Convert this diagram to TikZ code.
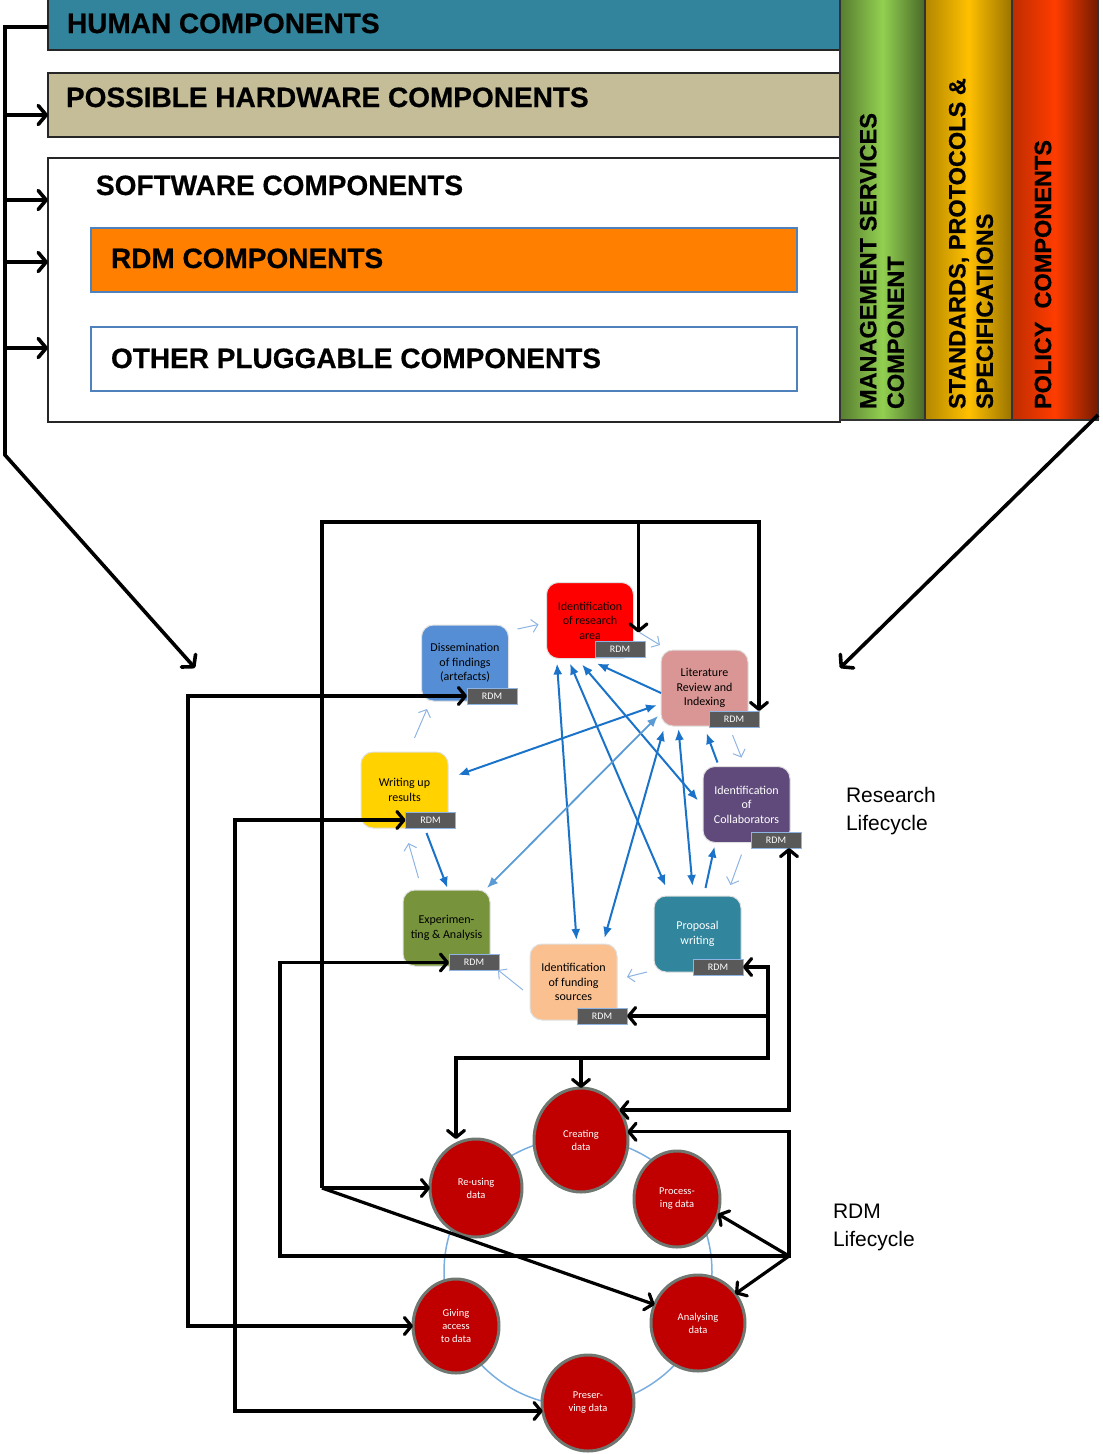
\documentclass[tikz,border=0pt]{standalone}
\usepackage{fontspec}
\setmainfont{Carlito}
\newfontfamily\arialfont{Liberation Sans}
\newfontfamily\headfont[FakeBold=0.6]{Liberation Sans Bold}
\usetikzlibrary{arrows.meta,shapes.geometric,calc}

\definecolor{humanteal}{HTML}{31849B}
\definecolor{hwtan}{HTML}{C4BD97}
\definecolor{rdmorange}{HTML}{FF8000}
\definecolor{frameblue}{HTML}{4F81BD}
\definecolor{mgmtgreen}{HTML}{92D050}
\definecolor{stdyellow}{HTML}{FFC000}
\definecolor{policyred}{HTML}{FF3C00}
\definecolor{linkblue}{HTML}{1A73C8}
\definecolor{linklight}{HTML}{5B9BD5}
\definecolor{cyclelight}{HTML}{8DB4E2}
\definecolor{ringblue}{HTML}{7AAEE0}
\definecolor{tagfill}{HTML}{595959}
\definecolor{tagedge}{HTML}{8EB4E3}
\definecolor{datared}{HTML}{C00000}
\definecolor{datarim}{HTML}{6F7770}
\definecolor{dissblue}{HTML}{558ED5}
\definecolor{areared}{HTML}{FF0000}
\definecolor{litpink}{HTML}{D99694}
\definecolor{collabpurple}{HTML}{604A7B}
\definecolor{propteal}{HTML}{31859C}
\definecolor{fundpeach}{HTML}{FAC090}
\definecolor{expgreen}{HTML}{77933C}
\definecolor{writeyellow}{HTML}{FFD200}

\begin{document}
\begin{tikzpicture}[x=1pt,y=-1pt,
  every node/.style={inner sep=0pt,outer sep=0pt},
  band/.style={draw=black!85,line width=2pt,minimum width=792pt},
  plug/.style={draw=frameblue,line width=2.2pt,minimum width=706pt,minimum height=64pt},
  headtext/.style={font=\headfont\fontsize{28}{32}\selectfont,anchor=base west},
  colbox/.style={draw=black!80,line width=1.2pt,minimum height=422pt},
  coltext/.style={font=\headfont\fontsize{23.5}{27.5}\selectfont,rotate=90,anchor=west,align=left},
  stage/.style={rectangle,rounded corners=12pt,draw=black!12,line width=1pt,
    minimum width=87pt,minimum height=76pt,align=center,font=\fontsize{12}{14.5}\selectfont},
  tag/.style={rectangle,fill=tagfill,draw=tagedge,line width=0.8pt,minimum width=50pt,
    minimum height=16pt,text=white,font=\fontsize{10}{12}\selectfont},
  datum/.style={ellipse,fill=datared,draw=datarim,line width=3pt,text=white,align=center,
    font=\fontsize{10.5}{13}\selectfont},
  sidenote/.style={font=\arialfont\fontsize{21}{28}\selectfont,align=left,anchor=west},
  blk/.style={line width=3.2pt,black,>={Straight Barb[length=7pt,width=17pt,round]}},
  topblk/.style={line width=3.6pt,black,>={Straight Barb[length=8pt,width=19pt,round]}},
  flow/.style={line width=2pt,linkblue,>={Latex[length=11pt,width=9pt]}},
  flowlight/.style={line width=1.8pt,linklight,>={Latex[length=11pt,width=9pt]}},
  stepflow/.style={line width=1pt,cyclelight,>={Straight Barb[length=6pt,width=13pt]}}
]
\useasboundingbox (0,0) rectangle (1103,1454);

% ---------- architecture layers ----------
\node[band,fill=humanteal,minimum height=52pt] (human) at (444,24) {};
\node[band,fill=hwtan,minimum height=64pt] (hardware) at (444,105) {};
\node[band,fill=white,minimum height=264pt] (software) at (444,290) {};
\node[plug,fill=rdmorange] (rdmbox) at (444,260) {};
\node[plug,fill=white] (otherbox) at (444,359) {};

\node[headtext] (humanText) at (67,33) {HUMAN COMPONENTS};
\node[headtext] (hardwareText) at (66,107) {POSSIBLE HARDWARE COMPONENTS};
\node[headtext] (softwareText) at (96,195) {SOFTWARE COMPONENTS};
\node[headtext] (rdmText) at (111,268) {RDM COMPONENTS};
\node[headtext] (otherText) at (111,368) {OTHER PLUGGABLE COMPONENTS};

% cross-cutting columns
\node[colbox,minimum width=85pt,left color=mgmtgreen!60!black,right color=mgmtgreen!50!black,middle color=mgmtgreen] (mgmt) at (882.5,209) {};
\node[colbox,minimum width=87pt,left color=stdyellow!70!black,right color=stdyellow!60!black,middle color=stdyellow] (std) at (968.5,209) {};
\node[colbox,minimum width=86pt,left color=policyred!75!black,right color=policyred!45!black,middle color=policyred] (policy) at (1055,209) {};
\node[coltext] (mgmtText) at (882,409) {MANAGEMENT SERVICES\\COMPONENT};
\node[coltext] (stdText) at (971,409) {STANDARDS, PROTOCOLS \&\\SPECIFICATIONS};
\node[coltext] (policyText) at (1043,409) {POLICY\ \ COMPONENTS};

% spine feeding the layers and pointing to the lifecycles
\coordinate (spineBot) at (5,455);
\coordinate (leftAim) at (195,668);
\coordinate (rightAim) at (840,668);
\coordinate (hwIn) at ([yshift=-10pt]hardware.west);
\coordinate (swIn) at ($(software.north west)+(0,42)$);
\coordinate (rdmIn) at ($(software.west |- rdmbox.west)+(0,2)$);
\coordinate (otherIn) at ($(software.west |- otherbox.west)+(0,-11)$);
\draw[topblk,->] ([yshift=-3pt]human.west) -| (spineBot) -- (leftAim);
\draw[topblk,->] (hwIn -| spineBot) -- (hwIn);
\draw[topblk,->] (swIn -| spineBot) -- (swIn);
\draw[topblk,->] (rdmIn -| spineBot) -- (rdmIn);
\draw[topblk,->] (otherIn -| spineBot) -- (otherIn);
\draw[topblk,->] ([yshift=5pt]policy.south east) -- (rightAim);

% ---------- RDM lifecycle ----------
\node[circle,draw=ringblue,line width=1.5pt,minimum size=268pt] (ring) at (578,1272) {};
\node[datum,minimum width=94pt,minimum height=104pt] (creating) at (581,1140) {Creating\\data};
\node[datum,minimum width=92pt,minimum height=98pt] (reusing) at (476,1188) {Re-using\\data};
\node[datum,minimum width=86pt,minimum height=96pt] (processing) at (677,1199) {Process-\\ing data};
\node[datum,minimum width=94pt,minimum height=96pt] (analysing) at (698,1323) {Analysing\\data};
\node[datum,minimum width=86pt,minimum height=94pt] (giving) at (456,1326) {Giving\\access\\to data};
\node[datum,minimum width=92pt,minimum height=96pt] (preserving) at (588,1403) {Preser-\\ving data};

% ---------- research lifecycle ----------
\node[stage,fill=dissblue] (diss) at (465,663) {Dissemination\\of findings\\(artefacts)};
\node[stage,fill=areared,text=black!92!red] (resarea) at (590,620.5) {Identification\\of research\\area};
\node[stage,fill=litpink] (litrev) at (704.5,688) {Literature\\Review and\\Indexing};
\node[stage,fill=collabpurple,text=white] (collab) at (746.5,804.5) {Identification\\of\\Collaborators};
\node[stage,fill=propteal,text=white] (proposal) at (697.5,934) {Proposal\\writing};
\node[stage,fill=fundpeach] (funding) at (573.5,982) {Identification\\of funding\\sources};
\node[stage,fill=expgreen] (exper) at (446.5,928) {Experimen-\\ting \& Analysis};
\node[stage,fill=writeyellow] (writing) at (404.5,790) {Writing up\\results};

\node[tag] (dissRDM) at (492,696) {RDM};
\node[tag] (resareaRDM) at (620,649) {RDM};
\node[tag] (litrevRDM) at (734,719) {RDM};
\node[tag] (collabRDM) at (776,840) {RDM};
\node[tag] (proposalRDM) at (718,967) {RDM};
\node[tag] (fundingRDM) at (602,1016) {RDM};
\node[tag] (experRDM) at (474,962.5) {RDM};
\node[tag] (writingRDM) at (430.5,820) {RDM};

\node[sidenote] (researchNote) at (846,811) {Research\\Lifecycle};
\node[sidenote] (rdmNote) at (833,1227) {RDM\\Lifecycle};

% sequence of the research lifecycle
\draw[stepflow,->] ([xshift=9pt,yshift=-4pt]diss.north east) -- ([xshift=-8pt,yshift=-4pt]resarea.west);
\draw[stepflow,->] ([xshift=6pt,yshift=-12pt]resarea.east) -- ([xshift=-1pt,yshift=5pt]litrev.north west);
\draw[stepflow,->] ([xshift=28pt,yshift=-9pt]litrev.south) -- ([xshift=-5pt,yshift=9pt]collab.north);
\draw[stepflow,->] ([xshift=-5pt,yshift=-12pt]collab.south) -- ([xshift=33pt,yshift=11pt]proposal.north);
\draw[stepflow,->] ([xshift=-7pt]proposal.south west) -- ([xshift=10pt,yshift=5pt]funding.east);
\draw[stepflow,->] ([xshift=-7pt,yshift=-8pt]funding.west) -- ([xshift=8pt,yshift=-4pt]exper.south east);
\draw[stepflow,->] ([xshift=-28pt,yshift=12pt]exper.north) -- ([xshift=4pt,yshift=-15pt]writing.south);
\draw[stepflow,->] ([xshift=10pt,yshift=14pt]writing.north) -- ([xshift=-38pt,yshift=-8pt]diss.south);

% interactions between stages
\draw[flow,->] ([yshift=-5pt]litrev.west) -- ([xshift=7pt,yshift=-5pt]resarea.south);
\draw[flow,<->] ([xshift=-33pt,yshift=-5pt]resarea.south) -- ([xshift=3pt,yshift=4pt]funding.north);
\draw[flow,<->] ([xshift=-20pt,yshift=-5pt]resarea.south) -- ([xshift=-32pt,yshift=10pt]proposal.north);
\draw[flow,<->] ([xshift=-8pt,yshift=-6pt]resarea.south) -- ([xshift=-5pt,yshift=4pt]collab.west);
\draw[flow,<->] ([xshift=-41pt,yshift=-4pt]litrev.south) -- ([xshift=31pt,yshift=6pt]funding.north);
\draw[flow,<->] ([xshift=-26pt,yshift=-3pt]litrev.south) -- ([xshift=-5pt,yshift=10pt]proposal.north);
\draw[flow,->] ([xshift=8pt,yshift=8pt]proposal.north) -- ([xshift=-32pt,yshift=-4pt]collab.south);
\draw[flow,->] ([xshift=-29pt,yshift=4pt]collab.north) -- ([xshift=2pt,yshift=-7pt]litrev.south);
\draw[flow,<->] ([xshift=-4pt,yshift=-17pt]litrev.west) -- ([xshift=10pt,yshift=15pt]writing.east);
\draw[flowlight,<->] ([xshift=-3pt,yshift=-28pt]litrev.west) -- ([xshift=-3pt,yshift=2pt]exper.north east);
\draw[flow,->] ([xshift=22pt,yshift=-5pt]writing.south) -- ([xshift=1pt,yshift=2pt]exper.north);

% ---------- links from RDM tags to the RDM lifecycle ----------
\coordinate (xA) at (188,0);
\coordinate (xB) at (235,0);
\coordinate (xC) at (280,0);
\coordinate (xF) at (789,0);
\coordinate (topL) at (322,522);
\coordinate (midBus) at (768,1058);
\coordinate (loopHub) at (789,1256);
\coordinate (raIn) at ([xshift=5pt,yshift=-12pt]resarea.east);
\coordinate (reuseHub) at (reusing.west -| topL);
\coordinate (reuseTop) at (456,0);

\draw[blk,<->] (dissRDM.west) -- (dissRDM.west -| xA) |- (giving.west);
\draw[blk,<->] (writingRDM.west) -- (writingRDM.west -| xB) |- (preserving.190);
\draw[blk,<->] (experRDM.west) -- (experRDM.west -| xC) |- (loopHub) |- (creating.10);
\draw[blk,->] (loopHub) -- (processing.-20);
\draw[blk,->] (loopHub) -- (analysing.38);
\draw[blk,<->] (collabRDM.south -| xF) |- (creating.38);
\draw[blk,<->] (proposalRDM.east) -| (midBus) -| (reuseTop |- reusing.north);
\draw[blk,->] (fundingRDM.east -| midBus) -- (fundingRDM.east);
\draw[blk,->] (creating.north |- midBus) -- (creating.north);
\draw[blk,->] (reuseHub) -- (topL) -- (litrevRDM.north east |- topL) -- (litrevRDM.north east);
\draw[blk,->] (raIn |- topL) -- (raIn);
\draw[blk,->] (reuseHub) -- (reusing.west);
\draw[blk,->] (reuseHub) -- (analysing.157);
\end{tikzpicture}
\end{document}
